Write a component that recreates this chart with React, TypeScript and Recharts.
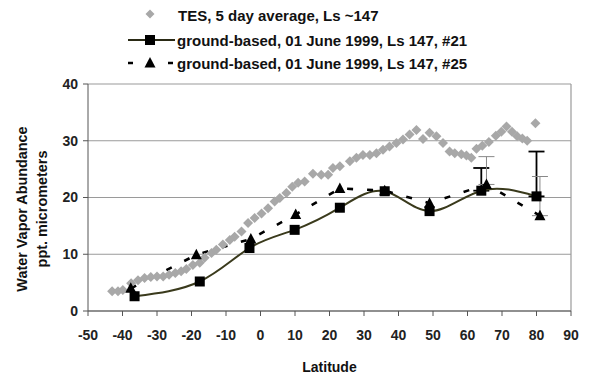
import React from 'react';
import {
  ComposedChart,
  Line,
  Scatter,
  XAxis,
  YAxis,
  CartesianGrid,
  ReferenceLine,
  ErrorBar,
  Legend,
} from 'recharts';

// ---- Data ----
const xTicks = [-50, -40, -30, -20, -10, 0, 10, 20, 30, 40, 50, 60, 70, 80, 90];
const yTicks = [0, 10, 20, 30, 40];

const tesLatitudes = [
  -43, -41.3, -39.9, -37.5, -35.5, -33.6, -31.8, -30, -28.2, -26.5, -24.7, -23, -21.5, -19.6,
  -17.6, -16.2, -14.2, -12.8, -10.9, -8.9, -7.5, -5.5, -3.6, -1.7, 0.3, 2.2, 4.1, 5.6, 7.5, 9.2,
  10.9, 12.8, 15.2, 17.6, 19.6, 21, 23, 25.9, 27.8, 29.7, 31.7, 33.6, 35.5, 37.4, 39.4, 41.3,
  43.2, 45.2, 47.1, 49, 51, 52.9, 54.8, 56.3, 58.2, 59.7, 61.1, 62.6, 64.3, 66.2, 68.2, 69.8,
  71.3, 72.9, 74.4, 75.9, 77.3, 79.7,
];
const tesValues = [
  3.5, 3.5, 3.7, 4.9, 5.4, 5.8, 6, 6.1, 6.1, 6.4, 6.7, 7, 7.4, 8.1,
  8.5, 9.4, 10.2, 10.8, 11.7, 12.5, 13.1, 14, 15.5, 16.4, 17.2, 18.1, 19.3, 19.9, 20.8, 21.9,
  22.6, 22.8, 24.2, 24, 24, 25.2, 25.5, 26.4, 27, 27.5, 27.5, 27.8, 28.4, 29, 29.6, 30.2,
  31.1, 31.9, 30.3, 31.4, 30.8, 29.6, 28.1, 27.8, 27.6, 27.4, 27, 28.6, 29.1, 29.8, 30.9, 31.6,
  32.5, 31.6, 30.8, 30.4, 30, 33.1,
];

const gb21Latitudes = [-36.5, -17.6, -3.2, 9.9, 23, 36, 49, 64, 80];
const gb21Values = [2.6, 5.2, 11.1, 14.3, 18.2, 21.1, 17.6, 21.2, 20.2];
const gb21ErrLatitudes = [64, 80];
const gb21ErrValues = [21.2, 20.2];
const gb21ErrUp = [4, 7.9];

const gb25Latitudes = [-37.6, -18.6, -2.8, 10.2, 23, 36, 49, 65.5, 81];
const gb25Values = [4, 9.9, 12.7, 17, 21.6, 21.2, 19, 22.3, 16.8];
const gb25ErrLatitudes = [65.5, 81];
const gb25ErrValues = [22.3, 16.8];
const gb25ErrUp = [4.9, 6.9];

const legendLabels = [
  'TES, 5 day average, Ls ~147',
  'ground-based, 01 June 1999, Ls 147, #21',
  'ground-based, 01 June 1999, Ls 147, #25',
];

// ---- Build series ----
const tesData = tesLatitudes.map((lat, i) => ({ lat, val: tesValues[i] }));
const gb21Data = gb21Latitudes.map((lat, i) => ({ lat, val: gb21Values[i] }));
const gb25Data = gb25Latitudes.map((lat, i) => ({ lat, val: gb25Values[i] }));
const gb21ErrData = gb21ErrLatitudes.map((lat, i) => ({ lat, val: gb21ErrValues[i], err: [0, gb21ErrUp[i]] }));
const gb25ErrData = gb25ErrLatitudes.map((lat, i) => ({ lat, val: gb25ErrValues[i], err: [0, gb25ErrUp[i]] }));

const FONT = '"Liberation Sans", Arial, sans-serif';
const TES_COLOR = '#a8a8a8';

const Diamond = (props: any) => {
  const { cx, cy } = props;
  if (cx == null || cy == null) return <g />;
  const r = 5;
  return <path d={`M${cx},${cy - r}L${cx + r},${cy}L${cx},${cy + r}L${cx - r},${cy}Z`} fill={TES_COLOR} />;
};

const SquareDot = (props: any) => {
  const { cx, cy, index } = props;
  if (cx == null || cy == null) return <g key={`sq-${index}`} />;
  return <rect key={`sq-${index}`} x={cx - 5} y={cy - 5} width={10} height={10} fill="#000" />;
};

const TriangleDot = (props: any) => {
  const { cx, cy, index } = props;
  if (cx == null || cy == null) return <g key={`tr-${index}`} />;
  return (
    <path key={`tr-${index}`} d={`M${cx},${cy - 6}L${cx + 5.5},${cy + 4.5}L${cx - 5.5},${cy + 4.5}Z`} fill="#000" />
  );
};

const Empty = () => <g />;

const LegendContent = () => (
  <svg width={589} height={76} style={{ display: 'block' }}>
    <path d="M150,9.5L154.5,14L150,18.5L145.5,14Z" fill={TES_COLOR} />
    <text x={178} y={20.5} fontFamily={FONT} fontWeight="bold" fontSize={15} fill="#111">{legendLabels[0]}</text>
    <line x1={128} y1={40} x2={175} y2={40} stroke="#2a2a15" strokeWidth={2} />
    <rect x={145} y={35} width={10} height={10} fill="#000" />
    <text x={177} y={45.5} fontFamily={FONT} fontWeight="bold" fontSize={15} fill="#111">{legendLabels[1]}</text>
    <line x1={128} y1={63} x2={133} y2={63} stroke="#000" strokeWidth={2.5} />
    <line x1={168} y1={63} x2={173} y2={63} stroke="#000" strokeWidth={2.5} />
    <path d="M150,57L155.5,67.5L144.5,67.5Z" fill="#000" />
    <text x={177} y={68.5} fontFamily={FONT} fontWeight="bold" fontSize={15} fill="#111">{legendLabels[2]}</text>
  </svg>
);

const YTitle = () => (
  <g>
    <text
      x={22}
      y={209}
      transform="rotate(-90 22 209)"
      textAnchor="middle"
      dominantBaseline="central"
      fontFamily={FONT}
      fontWeight="bold"
      fontSize={14.4}
      fill="#111"
    >
      Water Vapor Abundance
    </text>
    <text
      x={42}
      y={209}
      transform="rotate(-90 42 209)"
      textAnchor="middle"
      dominantBaseline="central"
      fontFamily={FONT}
      fontWeight="bold"
      fontSize={14.4}
      fill="#111"
    >
      ppt. micrometers
    </text>
  </g>
);

const tickStyle = { fill: '#222', fontSize: 14, fontWeight: 'bold', fontFamily: FONT } as any;

export default function App() {
  return (
    <div style={{ position: 'absolute', left: 0, top: 0, width: 589, height: 374, background: '#fff' }}>
      <ComposedChart width={589} height={374} margin={{ top: 84, right: 18, left: 0, bottom: 0 }}>
        <CartesianGrid vertical={false} stroke="#9a9a9a" strokeWidth={1.2} />
        <ReferenceLine x={90} stroke="#9a9a9a" strokeWidth={1.2} />
        <XAxis
          dataKey="lat"
          type="number"
          domain={[-50, 90]}
          ticks={xTicks}
          interval={0}
          tickSize={5}
          tickMargin={14}
          height={63}
          stroke="#555"
          tick={tickStyle}
          tickLine={{ stroke: '#555' }}
          allowDuplicatedCategory={false}
          label={{
            value: 'Latitude',
            position: 'insideBottom',
            offset: 2,
            style: { fill: '#111', fontSize: 14, fontWeight: 'bold', fontFamily: FONT },
          }}
        />
        <YAxis
          dataKey="val"
          type="number"
          domain={[0, 40]}
          ticks={yTicks}
          interval={0}
          width={88}
          tickSize={5}
          tickMargin={5}
          stroke="#555"
          tick={tickStyle}
          tickLine={{ stroke: '#555' }}
          label={{ content: () => <YTitle /> }}
        />
        <Legend
          layout="horizontal"
          verticalAlign="middle"
          align="center"
          wrapperStyle={{ top: 0, left: 0, width: 589, height: 76 }}
          content={() => <LegendContent />}
        />
        <Scatter data={tesData} dataKey="val" shape={<Diamond />} isAnimationActive={false} legendType="diamond" name={legendLabels[0]} />
        <Scatter data={gb21ErrData} dataKey="val" shape={<Empty />} isAnimationActive={false} legendType="none">
          <ErrorBar dataKey="err" direction="y" width={8} stroke="#000" strokeWidth={1.8} />
        </Scatter>
        <Scatter data={gb25ErrData} dataKey="val" shape={<Empty />} isAnimationActive={false} legendType="none">
          <ErrorBar dataKey="err" direction="y" width={8} stroke="#888" strokeWidth={1} />
        </Scatter>
        <Line
          data={gb21Data}
          dataKey="val"
          type="natural"
          stroke="#3a3a1c"
          strokeWidth={2}
          dot={SquareDot}
          activeDot={false}
          isAnimationActive={false}
          name={legendLabels[1]}
        />
        <Line
          data={gb25Data}
          dataKey="val"
          type="linear"
          stroke="#000"
          strokeWidth={2.6}
          strokeDasharray="6 14"
          dot={TriangleDot}
          activeDot={false}
          isAnimationActive={false}
          name={legendLabels[2]}
        />
      </ComposedChart>
    </div>
  );
}
